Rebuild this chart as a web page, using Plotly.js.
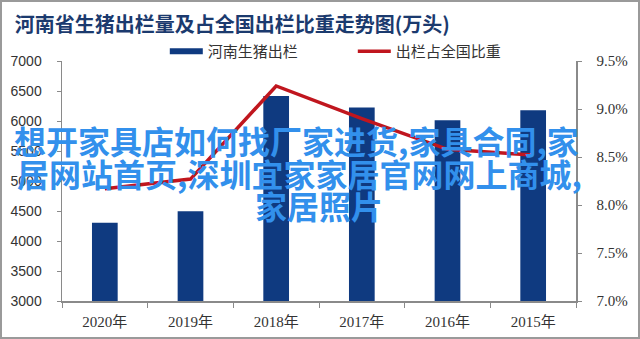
<!DOCTYPE html>
<html>
<head>
<meta charset="utf-8">
<script src="https://cdn.plot.ly/plotly-3.0.1.min.js"></script>
<style>
html,body{margin:0;padding:0;background:#fff;}
#chart{width:636px;height:335px;border:2px solid #9a9a9a;}
</style>
</head>
<body>
<div id="chart"></div>
<script>
// Data
var years = ['2020年', '2019年', '2018年', '2017年', '2016年', '2015年'];
var output = [4305, 4495, 6417, 6223, 6012, 6178];          // 河南生猪出栏 (万头)
var share = [8.17, 8.27, 9.24, 8.90, 8.58, 8.52];            // 出栏占全国比重 (%)
var barName = '河南生猪出栏';
var lineName = '出栏占全国比重';
var titleText = '河南省生猪出栏量及占全国出栏比重走势图(万头)';
var overlayLines = ['想开家具店如何找厂家进货,家具合同,家', '居网站首页,深圳宜家家居官网网上商城,', '家居照片'];

var navy = '#0f3a80';
var red = '#c0161e';
var tickFont = {family: 'Liberation Sans, Noto Sans CJK SC, sans-serif', size: 14, color: '#333'};

var traces = [
  {type: 'bar', x: years, y: output, name: barName, marker: {color: navy}, width: 0.3, showlegend: false, hoverinfo: 'x+y'},
  {type: 'scatter', mode: 'lines', x: [null], y: [null], name: barName, line: {color: navy, width: 6}, showlegend: true, hoverinfo: 'skip'},
  {type: 'scatter', mode: 'lines', x: years, y: share, name: lineName, yaxis: 'y2', line: {color: red, width: 3.5}}
];

var overlayX = [0.457, 0.463, 0.5];
var overlayY = [0.671, 0.533, 0.40];
var annotations = overlayLines.map(function (t, i) {
  return {text: t, xref: 'paper', yref: 'paper', x: overlayX[i], y: overlayY[i], xanchor: 'center', yanchor: 'middle',
    showarrow: false, font: {family: 'Noto Sans CJK SC, sans-serif', size: 32, color: '#3290ec', weight: 'bold'}};
});

var layout = {
  width: 636, height: 335,
  margin: {l: 60, r: 62, t: 59, b: 36},
  paper_bgcolor: '#fff', plot_bgcolor: '#fff',
  title: {text: titleText, x: 0.02, xanchor: 'left', y: 0.931, yanchor: 'middle', yref: 'container',
    font: {family: 'Noto Sans CJK SC, sans-serif', size: 20, color: '#1b3a6e', weight: 'bold'}},
  showlegend: true,
  legend: {orientation: 'h', x: 0.2, xanchor: 'left', y: 1.04, yanchor: 'middle', itemwidth: 33,
    entrywidth: 140, font: {family: 'Noto Sans CJK SC, sans-serif', size: 15, color: '#333'}, bgcolor: 'rgba(0,0,0,0)'},
  xaxis: {type: 'category', showline: true, linecolor: '#8a8a8a', linewidth: 1.5, ticks: 'outside', tickson: 'boundaries',
    ticklen: 5, tickcolor: '#8a8a8a', showgrid: false, zeroline: false,
    tickfont: {family: 'Liberation Serif, Noto Sans CJK SC, serif', size: 15, color: '#333'}, ticklabelstandoff: 6},
  yaxis: {range: [3000, 7000], dtick: 500, showline: true, linecolor: '#8a8a8a', linewidth: 1.5, ticks: 'outside', ticklen: 4,
    tickcolor: '#8a8a8a', showgrid: false, zeroline: false, tickfont: tickFont, ticklabelstandoff: 12},
  yaxis2: {range: [7.0, 9.5], dtick: 0.5, overlaying: 'y', side: 'right', tickformat: '.1f', ticksuffix: '%',
    showline: true, linecolor: '#8a8a8a', linewidth: 1.5, ticks: 'outside', ticklen: 4, tickcolor: '#8a8a8a',
    showgrid: false, zeroline: false, tickfont: {family: 'Liberation Serif, serif', size: 15, color: '#333'}, ticklabelstandoff: 12},
  annotations: annotations
};

Plotly.newPlot('chart', traces, layout, {displayModeBar: false, staticPlot: true});
</script>
</body>
</html>
